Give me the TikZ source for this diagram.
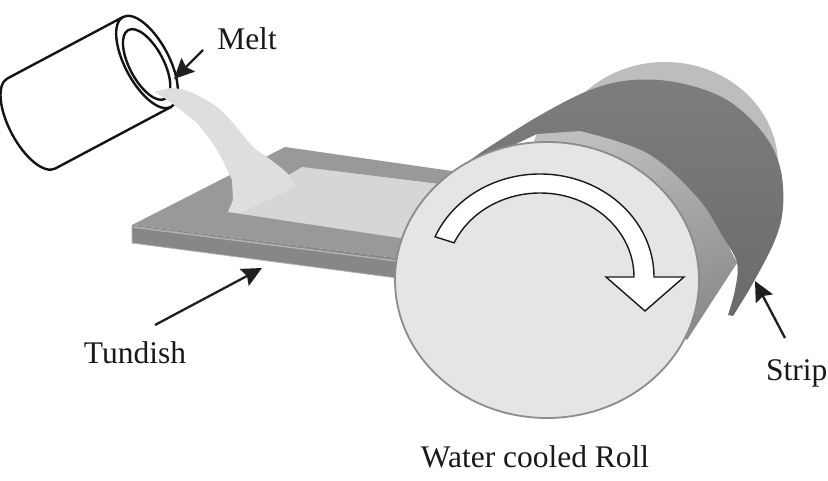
\documentclass[tikz,border=0pt]{standalone}
\usepackage{fontspec}
\setmainfont{Liberation Serif}
\usetikzlibrary{arrows.meta}
\tikzset{
  lbl/.style={font=\fontsize{31.5}{36}\selectfont,text=black!90,inner sep=0pt,anchor=base},
  callout/.style={line width=2.3pt,draw=black!88,-{Stealth[length=20pt,width=19pt,inset=3pt]}},
  ladle/.style={draw=black!92,line width=2.4pt,fill=white},
  meltfill/.style={fill=black!13},
  turn/.style={draw=black!90,line width=1.4pt,fill=white,line join=miter},
}
\begin{document}
\begin{tikzpicture}[x=1pt,y=-1pt]
\useasboundingbox (0,0) rectangle (828,481);
% tundish
\fill[black!40] (132,225) -- (285,147) -- (452,171) -- (452,262) -- (397,258) -- cycle;
\fill[black!47] (132,225) -- (397,258) -- (397,278) -- (132,243) -- cycle;
\draw[black!30,line width=1.5pt] (133,227) -- (397,261);
\draw[black!30,line width=.8pt] (132,226) -- (132,243) -- (397,278);
% melt pool and stream
\fill[black!16] (228,212) -- (302,167) -- (440,184) -- (440,240) -- (400,238) -- cycle;
\fill[meltfill] plot[smooth,tension=.5] coordinates {(155,92) (173,88) (193,93) (217,107) (233,123) (253,147) (267,157) (287,173) (296,187)}
  -- (240,213) -- (228,212) -- (233,200)
  -- plot[smooth,tension=.5] coordinates {(232,180) (217,150) (197,123) (177,107) (163,97)} -- cycle;
% roll back end
\fill[black!26] (665,165) ellipse[x radius=113,y radius=103];
% roll side band
\shade[left color=black!25,right color=black!45,shading angle=25]
  plot[smooth,tension=.6] coordinates {(537,133) (580,131) (647,153) (697,197) (723,237) (737,263)}
  -- (687,340) -- (520,180) -- cycle;
% strip
\shade[top color=black!51,bottom color=black!58]
  plot[smooth,tension=.6] coordinates {(733,316) (753,283) (775,240) (783,207) (780,167) (763,133) (727,100) (680,83) (633,80) (590,90) (537,117) (480,153)}
  -- (450,175) -- (537,134)
  -- plot[smooth,tension=.6] coordinates {(580,131) (647,153) (697,197) (723,237) (737,263) (735,290) (728,315)} -- cycle;
% roll front face
\draw[fill=black!10,draw=black!45,line width=1.8pt] (547,280) ellipse[x radius=152,y radius=138];
% rotation arrow
\draw[turn] (540,277) ++(-157:114 and 103) arc[start angle=-157,end angle=0,x radius=114,y radius=103]
  -- (684,277) -- (645,311) -- (606,277) -- (634,277)
  arc[start angle=0,end angle=-156,x radius=94,y radius=84] -- cycle;
% ladle
\begin{scope}[shift={(147,62)},rotate=28]
  \draw[ladle,line join=round] (0,-51) -- (-131,-51)
    arc[start angle=-90,end angle=-270,x radius=22,y radius=51] -- (0,51);
  \draw[ladle] (0,0) ellipse[x radius=22,y radius=51];
  \draw[ladle] (-1.5,2) ellipse[x radius=17,y radius=39];
\end{scope}
% stream over the lip
\fill[meltfill] plot[smooth,tension=.5] coordinates {(155,92) (173,88) (193,93)}
  -- (197,123) -- (177,107) -- (163,97) -- cycle;
% labels
\node[lbl] (melt) at (247,50) {Melt};
\node[lbl] (tundish) at (135,363) {Tundish};
\node[lbl,anchor=base west] (strip) at (766,380) {Strip};
\node[lbl] (roll) at (535,467) {Water cooled Roll};
% callouts
\coordinate (mA) at (203,50); \coordinate (mB) at (174,79);
\coordinate (tA) at (155,325); \coordinate (tB) at (262,268);
\coordinate (sA) at (785,338); \coordinate (sB) at (755,281);
\draw[callout] (mA) -- (mB);
\draw[callout] (tA) -- (tB);
\draw[callout] (sA) -- (sB);
\end{tikzpicture}
\end{document}
